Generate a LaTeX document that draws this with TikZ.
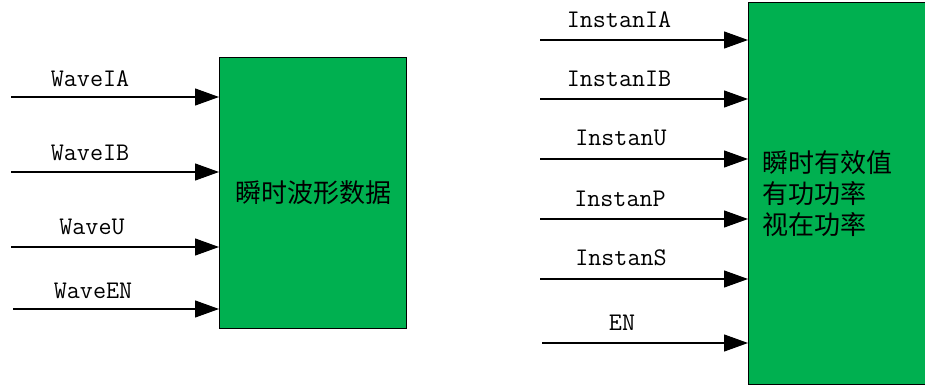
\documentclass[tikz,border=0pt]{standalone}
\usepackage{fontspec}
\newfontfamily\cjk{Noto Sans CJK SC}
\usetikzlibrary{positioning, arrows.meta}
\definecolor{blockgreen}{HTML}{00B050}

\begin{document}
\begin{tikzpicture}[x=0.75pt, y=-0.75pt, >={Triangle[length=18pt, width=12.75pt]}]
                \tikzstyle{block} = [draw, line width=1pt, fill=blockgreen, inner sep=0pt, font=\cjk\fontsize{19.5}{23}\selectfont]
                \tikzstyle{sig} = [inner sep=0pt, font=\ttfamily\fontsize{19}{21}\selectfont]
                \tikzstyle{wire} = [->, line width=0.9pt]

                \useasboundingbox (0,0) rectangle (925,385);

                % Left block (waveform data)
                \node[block, anchor=north west, minimum width=140.25pt, minimum height=203.25pt] (wave) at (219,57) {瞬时波形数据};
                \coordinate (wia) at (11,97);
                \coordinate (wib) at (11,172);
                \coordinate (wu) at (11,247);
                \coordinate (wen) at (13,309);
                \node[sig] (lwia) at (90,79) {WaveIA};
                \node[sig] (lwib) at (90,153) {WaveIB};
                \node[sig] (lwu) at (92,227) {WaveU};
                \node[sig] (lwen) at (93,291) {WaveEN};

                % Right block (instant values)
                \node[block, anchor=north west, minimum width=138pt, minimum height=286.5pt,
                      text width=118pt, inner xsep=9pt, align=left] (inst) at (748,2) {瞬时有效值\\有功功率\\视在功率};
                \coordinate (iia) at (540,40);
                \coordinate (iib) at (540,99);
                \coordinate (iu) at (540,159);
                \coordinate (ip) at (540,219);
                \coordinate (is) at (540,279);
                \coordinate (ien) at (542,343);
                \node[sig] (liia) at (619,20) {InstanIA};
                \node[sig] (liib) at (619,79) {InstanIB};
                \node[sig] (liu) at (621,138) {InstanU};
                \node[sig] (lip) at (620,199) {InstanP};
                \node[sig] (lis) at (621,258) {InstanS};
                \node[sig] (lien) at (622,323) {EN};

                % Arrows
                \draw[wire] (wia) -- (wia -| wave.west);
                \draw[wire] (wib) -- (wib -| wave.west);
                \draw[wire] (wu) -- (wu -| wave.west);
                \draw[wire] (wen) -- (wen -| wave.west);
                \draw[wire] (iia) -- (iia -| inst.west);
                \draw[wire] (iib) -- (iib -| inst.west);
                \draw[wire] (iu) -- (iu -| inst.west);
                \draw[wire] (ip) -- (ip -| inst.west);
                \draw[wire] (is) -- (is -| inst.west);
                \draw[wire] (ien) -- (ien -| inst.west);
            \end{tikzpicture}
\end{document}
